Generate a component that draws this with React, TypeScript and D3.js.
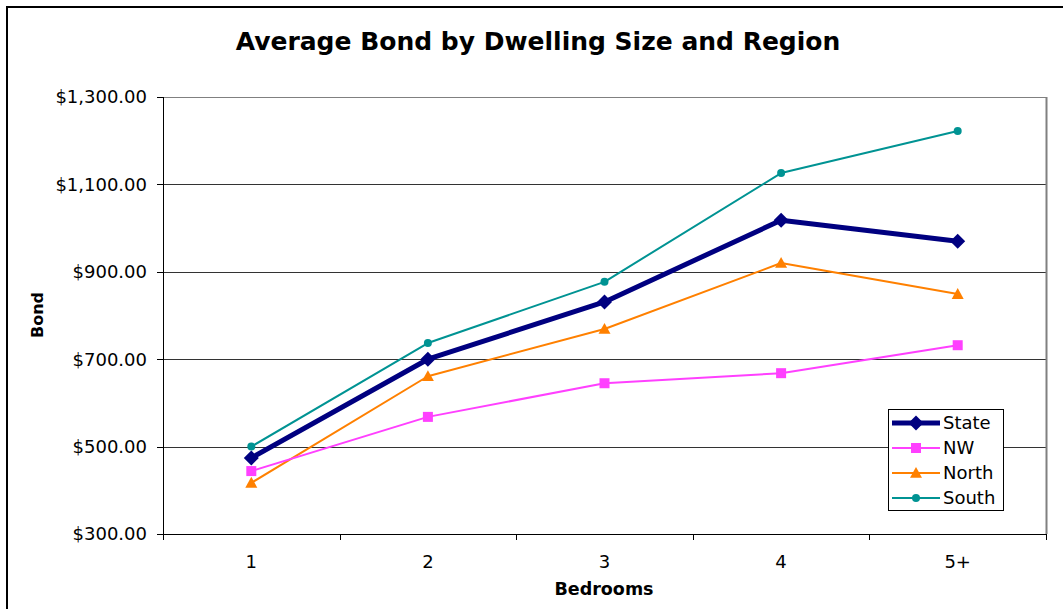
import React from "react";
import * as d3 from "d3";

const categories = ["1", "2", "3", "4", "5+"];
const stateValues = [474, 700, 831, 1018, 970];
const nwValues = [444, 568, 645, 668, 732];
const northValues = [417, 661, 769, 920, 849];
const southValues = [500, 737, 877, 1126, 1222];
const yTicks = [300, 500, 700, 900, 1100, 1300];

const W = 1063;
const H = 609;
const FONT = "'DejaVu Sans', Verdana, sans-serif";

const series = [
  { name: "State", values: stateValues, color: "#000080", width: 5, marker: "diamond", size: 7.5 },
  { name: "NW", values: nwValues, color: "#FF40FF", width: 2, marker: "square", size: 5 },
  { name: "North", values: northValues, color: "#FF8000", width: 2, marker: "triangle", size: 6 },
  { name: "South", values: southValues, color: "#009393", width: 2, marker: "circle", size: 4 },
];

function Marker({ type, x, y, size, color }: { type: string; x: number; y: number; size: number; color: string }) {
  if (type === "diamond") {
    const s = size;
    return <path d={`M${x},${y - s}L${x + s},${y}L${x},${y + s}L${x - s},${y}Z`} fill={color} />;
  }
  if (type === "square") {
    return <rect x={x - size} y={y - size} width={size * 2} height={size * 2} fill={color} />;
  }
  if (type === "triangle") {
    const s = size;
    return <path d={`M${x},${y - s}L${x + s},${y + s * 0.8}L${x - s},${y + s * 0.8}Z`} fill={color} />;
  }
  return <circle cx={x} cy={y} r={size} fill={color} />;
}

export default function App() {
  const left = 163;
  const right = 1046;
  const top = 97;
  const bottom = 534;

  const x = d3.scaleBand().domain(categories).range([left, right]).padding(0);
  const y = d3.scaleLinear().domain([300, 1300]).range([bottom, top]);
  const cx = (c: string) => (x(c) as number) + x.bandwidth() / 2;

  const line = d3
    .line<number>()
    .x((_, i) => cx(categories[i]))
    .y((v) => y(v));

  const boundaries = categories.map((c) => x(c) as number).concat([right]);

  const legendX = 888;
  const legendY = 409;
  const legendW = 115;
  const legendH = 101;

  return (
    <svg
      width={W}
      height={H}
      style={{ position: "absolute", left: 0, top: 0, background: "#fff" }}
      fontFamily={FONT}
    >
      <rect x={0} y={0} width={W} height={H} fill="#fff" />
      <rect x={7} y={7} width={W + 20} height={H + 20} fill="none" stroke="#000" strokeWidth={2} />

      <text x={538} y={50} textAnchor="middle" fontWeight="bold" fontSize={25} fill="#000">
        Average Bond by Dwelling Size and Region
      </text>

      {/* gridlines */}
      {yTicks.map((t) => (
        <line
          key={t}
          x1={left}
          x2={right}
          y1={Math.round(y(t)) + 0.5}
          y2={Math.round(y(t)) + 0.5}
          stroke={t === 1300 ? "#808080" : "#333"}
          strokeWidth={1}
        />
      ))}
      {/* plot right border */}
      <line x1={right + 0.5} x2={right + 0.5} y1={top} y2={bottom} stroke="#808080" strokeWidth={2} />

      {/* y axis */}
      <line x1={left + 0.5} x2={left + 0.5} y1={top} y2={bottom + 6} stroke="#000" />
      {yTicks.map((t) => (
        <g key={t}>
          <line x1={left - 6} x2={left} y1={Math.round(y(t)) + 0.5} y2={Math.round(y(t)) + 0.5} stroke="#000" />
          <text x={147} y={y(t)} dy="0.36em" textAnchor="end" fontSize={18} fill="#000">
            {d3.format("$,.2f")(t)}
          </text>
        </g>
      ))}

      {/* x axis */}
      <line x1={left} x2={right} y1={bottom + 0.5} y2={bottom + 0.5} stroke="#000" />
      {boundaries.map((b, i) => (
        <line key={i} x1={Math.round(b) + 0.5} x2={Math.round(b) + 0.5} y1={bottom} y2={bottom + 6} stroke="#000" />
      ))}
      {categories.map((c) => (
        <text key={c} x={cx(c)} y={568} textAnchor="middle" fontSize={18} fill="#000">
          {c}
        </text>
      ))}

      <text x={604} y={595} textAnchor="middle" fontWeight="bold" fontSize={17.5} fill="#000">
        Bedrooms
      </text>
      <text
        transform={`translate(43,315) rotate(-90)`}
        textAnchor="middle"
        fontWeight="bold"
        fontSize={16}
        fill="#000"
      >
        Bond
      </text>

      {/* series */}
      {series
        .slice()
        .reverse()
        .map((s) => (
          <g key={s.name}>
            <path d={line(s.values) || ""} fill="none" stroke={s.color} strokeWidth={s.width} strokeLinejoin="round" />
            {s.values.map((v, i) => (
              <Marker key={i} type={s.marker} x={cx(categories[i])} y={y(v)} size={s.size} color={s.color} />
            ))}
          </g>
        ))}

      {/* legend */}
      <rect x={legendX + 0.5} y={legendY + 0.5} width={legendW} height={legendH} fill="#fff" stroke="#000" strokeWidth={1} />
      {series.map((s, i) => {
        const ly = legendY + 14 + i * 25;
        return (
          <g key={s.name}>
            <line x1={legendX + 4} x2={legendX + 52} y1={ly} y2={ly} stroke={s.color} strokeWidth={s.width} />
            <Marker type={s.marker} x={legendX + 28} y={ly} size={s.size} color={s.color} />
            <text x={legendX + 55} y={ly} dy="0.36em" fontSize={18} fill="#000">
              {s.name}
            </text>
          </g>
        );
      })}
    </svg>
  );
}
